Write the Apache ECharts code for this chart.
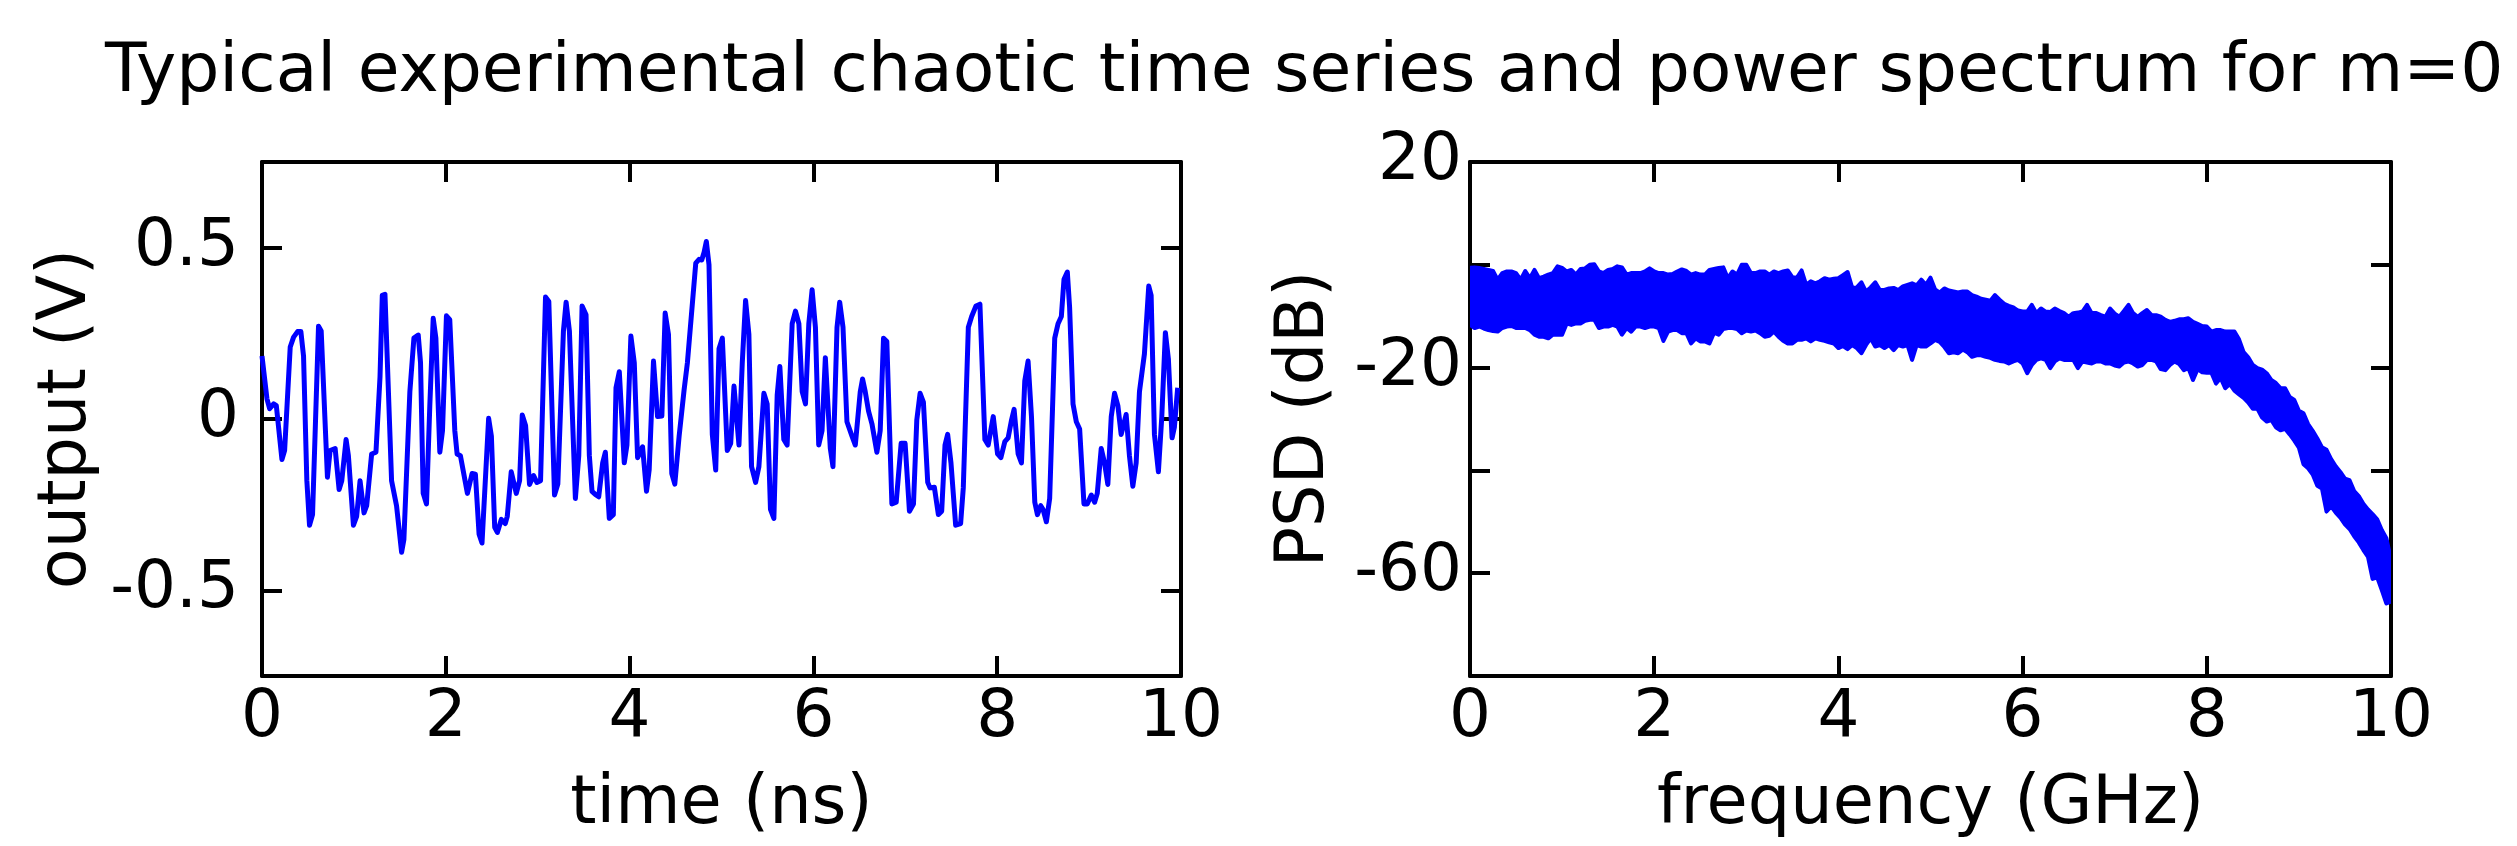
<!DOCTYPE html>
<html>
<head>
<meta charset="utf-8">
<title>Chaotic time series and power spectrum</title>
<script src="https://cdn.jsdelivr.net/npm/echarts@6.0.0/dist/echarts.min.js"></script>
<style>
  html, body { margin: 0; padding: 0; background: #fff; }
  #chart { width: 2517px; height: 846px; }
</style>
</head>
<body>
<div id="chart"></div>
<script>
// time series (left panel), vertices
const timeNs = [
  0, 0.054, 0.083, 0.127, 0.156, 0.217, 0.246, 0.307, 0.344, 0.387,
  0.423, 0.452, 0.488, 0.517, 0.55, 0.615, 0.644, 0.712, 0.741, 0.796,
  0.839, 0.868, 0.915, 0.94, 0.995, 1.03, 1.067, 1.11, 1.139, 1.193,
  1.24, 1.284, 1.309, 1.338, 1.41, 1.464, 1.519, 1.544, 1.609, 1.653,
  1.7, 1.725, 1.754, 1.79, 1.826, 1.863, 1.892, 1.935, 1.964, 2.007,
  2.043, 2.098, 2.123, 2.159, 2.188, 2.235, 2.286, 2.322, 2.362, 2.394,
  2.466, 2.496, 2.532, 2.561, 2.604, 2.647, 2.669, 2.712, 2.767, 2.803,
  2.832, 2.868, 2.911, 2.955, 2.991, 3.031, 3.085, 3.121, 3.183, 3.219,
  3.28, 3.309, 3.345, 3.41, 3.447, 3.483, 3.526, 3.562, 3.591, 3.627,
  3.664, 3.707, 3.736, 3.779, 3.823, 3.852, 3.888, 3.942, 3.971, 4.014,
  4.051, 4.087, 4.141, 4.184, 4.213, 4.26, 4.304, 4.351, 4.387, 4.423,
  4.459, 4.492, 4.539, 4.593, 4.629, 4.72, 4.756, 4.785, 4.81, 4.835,
  4.864, 4.9, 4.937, 4.973, 5.009, 5.063, 5.1, 5.136, 5.154, 5.19,
  5.226, 5.262, 5.298, 5.327, 5.371, 5.407, 5.461, 5.497, 5.533, 5.57,
  5.606, 5.635, 5.678, 5.714, 5.769, 5.805, 5.842, 5.878, 5.914, 5.95,
  5.986, 6.022, 6.058, 6.094, 6.13, 6.184, 6.213, 6.257, 6.286, 6.322,
  6.365, 6.42, 6.456, 6.51, 6.535, 6.564, 6.6, 6.637, 6.691, 6.727,
  6.763, 6.799, 6.854, 6.901, 6.955, 6.998, 7.045, 7.089, 7.125, 7.161,
  7.197, 7.244, 7.269, 7.316, 7.36, 7.396, 7.432, 7.461, 7.497, 7.548,
  7.602, 7.631, 7.686, 7.722, 7.769, 7.812, 7.866, 7.902, 7.957, 8.004,
  8.04, 8.083, 8.119, 8.156, 8.184, 8.228, 8.264, 8.3, 8.336, 8.373,
  8.409, 8.438, 8.474, 8.499, 8.535, 8.571, 8.626, 8.662, 8.698, 8.727,
  8.763, 8.788, 8.825, 8.861, 8.897, 8.944, 8.98, 9.024, 9.06, 9.089,
  9.132, 9.168, 9.204, 9.241, 9.277, 9.313, 9.349, 9.403, 9.439, 9.476,
  9.512, 9.548, 9.602, 9.649, 9.675, 9.711, 9.754, 9.791, 9.83, 9.863,
  9.903, 9.928, 9.964
];
const outputV = [
  0.184, 0.059, 0.03, 0.044, 0.039, -0.118, -0.092, 0.21, 0.239, 0.255,
  0.255, 0.184, -0.18, -0.31, -0.279, 0.271, 0.257, -0.17, -0.092, -0.086,
  -0.206, -0.18, -0.06, -0.107, -0.31, -0.284, -0.18, -0.274, -0.253, -0.102,
  -0.097, 0.122, 0.361, 0.364, -0.18, -0.253, -0.389, -0.352, 0.08, 0.236,
  0.245, 0.164, -0.217, -0.248, 0.039, 0.294, 0.236, -0.097, -0.034, 0.301,
  0.29, -0.034, -0.102, -0.107, -0.149, -0.217, -0.159, -0.161, -0.336, -0.362,
  0.002, -0.05, -0.316, -0.331, -0.293, -0.305, -0.284, -0.154, -0.217, -0.18,
  0.012, -0.019, -0.191, -0.165, -0.185, -0.18, 0.356, 0.343, -0.222, -0.19,
  0.257, 0.341, 0.257, -0.232, -0.107, 0.33, 0.304, -0.107, -0.211, -0.22,
  -0.227, -0.128, -0.097, -0.29, -0.279, 0.091, 0.138, -0.128, -0.076, 0.242,
  0.164, -0.113, -0.081, -0.211, -0.149, 0.169, 0.007, 0.009, 0.309, 0.247,
  -0.159, -0.19, -0.05, 0.085, 0.164, 0.455, 0.466, 0.464, 0.486, 0.518,
  0.45, -0.045, -0.149, 0.205, 0.236, -0.092, -0.071, 0.096, 0.091, -0.076,
  0.164, 0.346, 0.247, -0.139, -0.185, -0.139, 0.075, 0.044, -0.264, -0.29,
  0.07, 0.153, -0.06, -0.076, 0.278, 0.315, 0.278, 0.08, 0.044, 0.278,
  0.377, 0.268, -0.076, -0.034, 0.179, -0.086, -0.139, 0.268, 0.341, 0.268,
  -0.008, -0.05, -0.076, 0.08, 0.117, 0.08, 0.023, -0.014, -0.097, -0.034,
  0.236, 0.226, -0.248, -0.243, -0.071, -0.071, -0.269, -0.248, -0.003, 0.075,
  0.049, -0.185, -0.201, -0.199, -0.279, -0.269, -0.076, -0.045, -0.128, -0.31,
  -0.305, -0.201, 0.268, 0.299, 0.33, 0.335, -0.06, -0.076, 0.007, -0.102,
  -0.113, -0.066, -0.055, -0.003, 0.028, -0.102, -0.128, 0.111, 0.169, 0.007,
  -0.243, -0.279, -0.253, -0.264, -0.3, -0.232, 0.236, 0.278, 0.299, 0.408,
  0.429, 0.325, 0.044, -0.008, -0.029, -0.248, -0.248, -0.222, -0.243, -0.217,
  -0.086, -0.128, -0.191, 0.007, 0.075, 0.039, -0.045, 0.013, -0.107, -0.196,
  -0.128, 0.08, 0.19, 0.388, 0.361, -0.045, -0.154, 0.007, 0.252, 0.174,
  -0.055, -0.024, 0.091
];

// power spectrum (right panel): top and bottom edge of the noisy trace
const freqGHz = [
  0, 0.05, 0.1, 0.15, 0.2, 0.25, 0.3, 0.35, 0.4, 0.45,
  0.5, 0.55, 0.6, 0.65, 0.7, 0.75, 0.8, 0.85, 0.9, 0.95,
  1, 1.05, 1.1, 1.15, 1.2, 1.25, 1.3, 1.35, 1.4, 1.45,
  1.5, 1.55, 1.6, 1.65, 1.7, 1.75, 1.8, 1.85, 1.9, 1.95,
  2, 2.05, 2.1, 2.15, 2.2, 2.25, 2.3, 2.35, 2.4, 2.45,
  2.5, 2.55, 2.6, 2.65, 2.7, 2.75, 2.8, 2.85, 2.9, 2.95,
  3, 3.05, 3.1, 3.15, 3.2, 3.25, 3.3, 3.35, 3.4, 3.45,
  3.5, 3.55, 3.6, 3.65, 3.7, 3.75, 3.8, 3.85, 3.9, 3.95,
  4, 4.05, 4.1, 4.15, 4.2, 4.25, 4.3, 4.35, 4.4, 4.45,
  4.5, 4.55, 4.6, 4.65, 4.7, 4.75, 4.8, 4.85, 4.9, 4.95,
  5, 5.05, 5.1, 5.15, 5.2, 5.25, 5.3, 5.35, 5.4, 5.45,
  5.5, 5.55, 5.6, 5.65, 5.7, 5.75, 5.8, 5.85, 5.9, 5.95,
  6, 6.05, 6.1, 6.15, 6.2, 6.25, 6.3, 6.35, 6.4, 6.45,
  6.5, 6.55, 6.6, 6.65, 6.7, 6.75, 6.8, 6.85, 6.9, 6.95,
  7, 7.05, 7.1, 7.15, 7.2, 7.25, 7.3, 7.35, 7.4, 7.45,
  7.5, 7.55, 7.6, 7.65, 7.7, 7.75, 7.8, 7.85, 7.9, 7.95,
  8, 8.05, 8.1, 8.15, 8.2, 8.25, 8.3, 8.35, 8.4, 8.45,
  8.5, 8.55, 8.6, 8.65, 8.7, 8.75, 8.8, 8.85, 8.9, 8.95,
  9, 9.05, 9.1, 9.15, 9.2, 9.25, 9.3, 9.35, 9.4, 9.45,
  9.5, 9.55, 9.6, 9.65, 9.7, 9.75, 9.8, 9.85, 9.9, 9.95,
  10
];
const psdUpper = [
  -0.6, -0.5, -0.6, -0.8, -1.0, -1.2, -2.9, -1.6, -1.3, -1.3,
  -1.6, -2.9, -1.2, -2.6, -1.0, -2.6, -2.3, -1.9, -1.6, -0.3,
  -0.6, -1.3, -1.0, -1.9, -0.8, -0.7, 0.0, 0.1, -1.3, -1.6,
  -1.0, -0.8, -0.3, -0.5, -1.9, -1.6, -1.6, -1.6, -1.3, -0.7,
  -1.3, -1.6, -1.6, -1.9, -1.8, -1.3, -0.9, -1.2, -1.9, -1.6,
  -1.9, -1.9, -1.0, -0.8, -0.6, -0.5, -2.6, -1.3, -1.9, 0.0,
  0.0, -1.6, -1.6, -1.3, -1.3, -1.9, -1.3, -1.6, -1.3, -1.1,
  -2.4, -2.5, -1.1, -3.9, -3.2, -3.6, -3.2, -2.6, -2.9, -2.7,
  -2.6, -2.0, -1.4, -4.5, -4.4, -3.4, -5.2, -4.4, -3.4, -4.9,
  -4.9, -4.6, -4.5, -4.9, -4.2, -3.9, -3.6, -4.0, -2.9, -3.9,
  -2.5, -4.8, -5.4, -4.6, -5.0, -5.2, -5.4, -5.2, -5.2, -5.9,
  -6.2, -6.6, -6.8, -7.0, -5.9, -6.8, -7.6, -8.0, -8.3, -8.9,
  -9.1, -9.1, -7.8, -9.4, -8.5, -9.1, -9.2, -8.5, -9.0, -9.4,
  -10.1, -9.4, -9.3, -9.1, -7.8, -9.4, -9.4, -9.8, -10.1, -8.5,
  -9.5, -10.1, -9.0, -7.8, -9.4, -10.1, -9.4, -8.8, -9.8, -9.8,
  -10.1, -10.7, -11.1, -10.9, -10.6, -10.6, -10.4, -11.1, -11.5, -11.9,
  -12.0, -13.0, -12.7, -12.7, -13.0, -13.0, -13.0, -14.5, -17.0, -18.0,
  -19.5, -20.1, -20.4, -21.1, -22.4, -23.0, -24.0, -24.0, -25.7, -26.3,
  -28.4, -28.9, -31.0, -32.3, -33.8, -35.5, -36.0, -37.8, -39.2, -40.3,
  -41.6, -41.9, -44.0, -45.0, -46.5, -47.6, -48.5, -49.5, -51.6, -53.2,
  -57.4
];
const psdLower = [
  -11.7, -12.3, -12.0, -12.4, -12.7, -12.9, -13.0, -12.3, -12.0, -11.9,
  -12.3, -12.3, -12.3, -12.7, -13.6, -14.0, -14.0, -14.3, -13.6, -13.6,
  -13.6, -11.4, -11.7, -11.4, -11.4, -10.9, -10.7, -10.7, -12.3, -12.0,
  -12.0, -11.7, -12.0, -13.6, -12.3, -13.0, -12.0, -12.0, -12.3, -12.0,
  -12.0, -12.3, -14.8, -13.0, -12.7, -12.7, -13.3, -13.3, -15.3, -14.3,
  -14.9, -14.9, -15.3, -13.2, -13.6, -12.5, -12.3, -12.3, -12.5, -13.3,
  -12.8, -13.0, -12.8, -13.3, -14.0, -13.8, -13.0, -14.0, -14.8, -15.3,
  -15.3, -14.6, -14.6, -14.3, -14.9, -14.3, -14.6, -14.8, -15.1, -15.3,
  -16.2, -15.8, -16.4, -15.6, -16.2, -17.2, -15.6, -14.3, -15.9, -15.6,
  -16.2, -15.6, -16.6, -15.6, -15.9, -15.6, -18.5, -15.6, -15.9, -15.9,
  -15.3, -14.6, -15.0, -16.0, -17.2, -17.0, -17.2, -16.5, -17.0, -17.9,
  -17.6, -17.6, -17.9, -18.1, -18.5, -18.7, -18.8, -19.2, -18.8, -18.5,
  -19.2, -21.1, -19.5, -18.5, -18.2, -18.5, -20.1, -18.8, -18.2, -18.5,
  -18.5, -18.5, -20.1, -18.8, -19.0, -19.2, -18.8, -18.8, -19.2, -19.2,
  -19.6, -19.8, -19.0, -18.8, -19.2, -19.8, -19.5, -18.5, -18.5, -18.8,
  -20.3, -20.5, -19.5, -18.8, -19.3, -20.5, -20.1, -22.4, -20.3, -20.9,
  -21.0, -21.0, -23.1, -22.0, -24.0, -23.2, -24.5, -25.2, -25.9, -26.8,
  -28.0, -28.0, -29.7, -30.5, -30.2, -31.6, -32.2, -31.9, -33.0, -34.2,
  -35.6, -38.8, -39.6, -40.8, -43.0, -43.5, -48.0, -47.0, -48.2, -49.2,
  -50.5, -51.4, -52.8, -54.0, -55.5, -56.8, -61.1, -60.8, -63.3, -65.9,
  -65.5
];

const outputTicks = [-0.5, 0, 0.5];
const psdLabels = [-60, -20, 20];

const FONT = 'DejaVu Sans';
const BLUE = '#0000ff';

const chart = echarts.init(document.getElementById('chart'));

function tick(customValues) {
  const t = { inside: true, length: 20, lineStyle: { color: '#000', width: 4 } };
  if (customValues) t.customValues = customValues;
  return t;
}

function label(margin, customValues) {
  const l = { show: true, fontSize: 66, color: '#000', fontFamily: FONT, margin: margin };
  if (customValues) l.customValues = customValues;
  return l;
}

// one side of a boxed frame; each panel gets four of these
function frameAxis(gridIndex, position, extra) {
  return Object.assign({
    type: 'value',
    gridIndex: gridIndex,
    position: position,
    axisLine: { onZero: false, lineStyle: { color: '#000', width: 4 } },
    axisTick: tick(),
    axisLabel: { show: false },
    splitLine: { show: false },
    nameLocation: 'middle',
    nameTextStyle: { fontSize: 67, color: '#000', fontFamily: FONT }
  }, extra);
}

const tsData = timeNs.map((t, i) => [t, outputV[i]]);
const psdData = freqGHz.map((f, i) => [f, psdUpper[i], psdLower[i]]);

// the spectrum is a dense noisy trace: draw it as the filled band between its edges
function renderBand(params, api) {
  if (params.dataIndex !== 0) return null;
  const pts = [];
  for (let i = 0; i < freqGHz.length; i++) pts.push(api.coord([freqGHz[i], psdUpper[i]]));
  for (let i = freqGHz.length - 1; i >= 0; i--) pts.push(api.coord([freqGHz[i], psdLower[i]]));
  return {
    type: 'polygon',
    shape: { points: pts },
    style: { fill: BLUE, stroke: BLUE, lineWidth: 4, lineJoin: 'round' }
  };
}

const option = {
  animation: false,
  backgroundColor: '#fff',
  title: {
    text: 'Typical experimental chaotic time series and power spectrum for m=0',
    left: 100,
    top: 34,
    textStyle: { fontSize: 68, fontWeight: 'normal', color: '#000', fontFamily: FONT }
  },
  grid: [
    { left: 262, top: 162, width: 919, height: 514, outerBoundsMode: 'none' },
    { left: 1470, top: 162, width: 921, height: 514, outerBoundsMode: 'none' }
  ],
  xAxis: [
    frameAxis(0, 'bottom', { min: 0, max: 10, interval: 2, axisLabel: label(10),
      name: 'time (ns)', nameGap: 96 }),
    frameAxis(0, 'top', { min: 0, max: 10, interval: 2 }),
    frameAxis(1, 'bottom', { min: 0, max: 10, interval: 2, axisLabel: label(10),
      name: 'frequency (GHz)', nameGap: 96 }),
    frameAxis(1, 'top', { min: 0, max: 10, interval: 2 })
  ],
  yAxis: [
    frameAxis(0, 'left', { min: -0.75, max: 0.75, axisTick: tick(outputTicks),
      axisLabel: label(23, outputTicks), name: 'output (V)', nameGap: 161 }),
    frameAxis(0, 'right', { min: -0.75, max: 0.75, axisTick: tick(outputTicks) }),
    frameAxis(1, 'left', { min: -80, max: 20, interval: 20,
      axisLabel: label(8, psdLabels), name: 'PSD (dB)', nameGap: 131 }),
    frameAxis(1, 'right', { min: -80, max: 20, interval: 20 })
  ],
  series: [
    {
      type: 'line',
      xAxisIndex: 0,
      yAxisIndex: 0,
      data: tsData,
      showSymbol: false,
      lineStyle: { color: BLUE, width: 5, join: 'round' }
    },
    {
      type: 'custom',
      xAxisIndex: 2,
      yAxisIndex: 2,
      data: psdData,
      encode: { x: 0, y: [1, 2] },
      clip: true,
      renderItem: renderBand
    }
  ]
};

chart.setOption(option);
</script>
</body>
</html>
